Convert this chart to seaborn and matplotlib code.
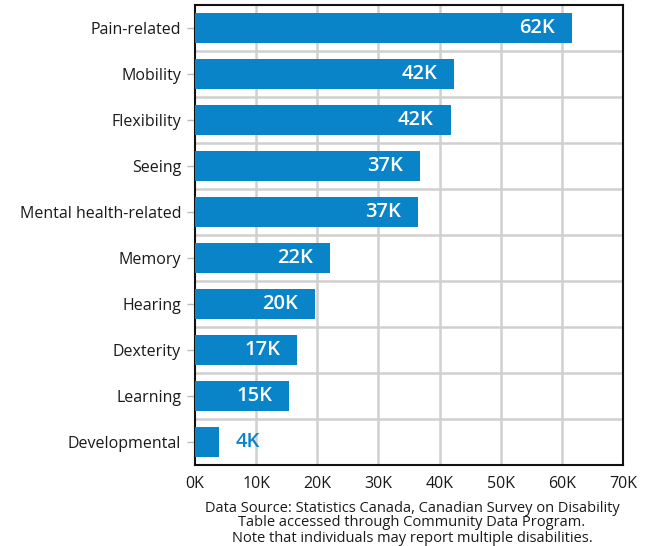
import matplotlib
matplotlib.use("Agg")
import matplotlib.pyplot as plt
import seaborn as sns
import pandas as pd

categories = ["Pain-related", "Mobility", "Flexibility", "Seeing", "Mental health-related",
              "Memory", "Hearing", "Dexterity", "Learning", "Developmental"]
values = [61600, 42400, 41800, 36800, 36500, 22100, 19600, 16700, 15400, 3900]
value_labels = ["62K", "42K", "42K", "37K", "37K", "22K", "20K", "17K", "15K", "4K"]
x_ticks = [0, 10000, 20000, 30000, 40000, 50000, 60000, 70000]
x_tick_labels = ["0K", "10K", "20K", "30K", "40K", "50K", "60K", "70K"]
footnote = ["Data Source: Statistics Canada, Canadian Survey on Disability",
            "Table accessed through Community Data Program.",
            "Note that individuals may report multiple disabilities."]

sns.set_theme(style="white")
plt.rcParams["font.family"] = ["Open Sans", "DejaVu Sans"]

BLUE = "#0a84c8"
TEXT = "#1a1a1a"

df = pd.DataFrame({"category": categories, "value": values})

fig = plt.figure(figsize=(6.55, 5.46), dpi=100)
ax = fig.add_axes([195 / 655, 1 - 465 / 546, (623 - 195) / 655, (465 - 5) / 546])

sns.barplot(data=df, x="value", y="category", color=BLUE, saturation=1, width=0.67,
            ax=ax, zorder=3, linewidth=0)

ax.set_xlim(0, 70000)
ax.set_ylim(len(categories) - 0.5, -0.5)
ax.set_xticks(x_ticks)
ax.set_xticklabels(x_tick_labels, fontsize=11.5, color=TEXT)
ax.set_yticks(range(len(categories)))
ax.set_yticklabels(categories, fontsize=11.5, color=TEXT)
ax.set_xlabel("")
ax.set_ylabel("")

for xv in x_ticks[1:-1]:
    ax.axvline(xv, color="#d0d0d0", lw=1.8, zorder=1)
for i in range(len(categories) - 1):
    ax.axhline(i + 0.5, color="#d0d0d0", lw=1.8, zorder=1)

ax.tick_params(axis="y", length=6, width=1, color="#bbbbbb", pad=4, left=True)
ax.tick_params(axis="x", length=0, pad=8)

for s in ax.spines.values():
    s.set_color("#111111")
    s.set_linewidth(1.5)
    s.set_visible(True)

offset = 2800
for i, (v, lab) in enumerate(zip(values, value_labels)):
    if v > 10000:
        ax.text(v - offset, i, lab, ha="right", va="center", color="white",
                fontsize=14.5, fontweight="semibold", zorder=4)
    else:
        ax.text(v + offset, i, lab, ha="left", va="center", color=BLUE,
                fontsize=14.5, fontweight="semibold", zorder=4)

for k, line in enumerate(footnote):
    fig.text(412 / 655, 1 - (508 + 15 * k) / 546, line, ha="center", va="center",
             fontsize=10.5, color=TEXT)

fig.savefig("out.png", dpi=100)
